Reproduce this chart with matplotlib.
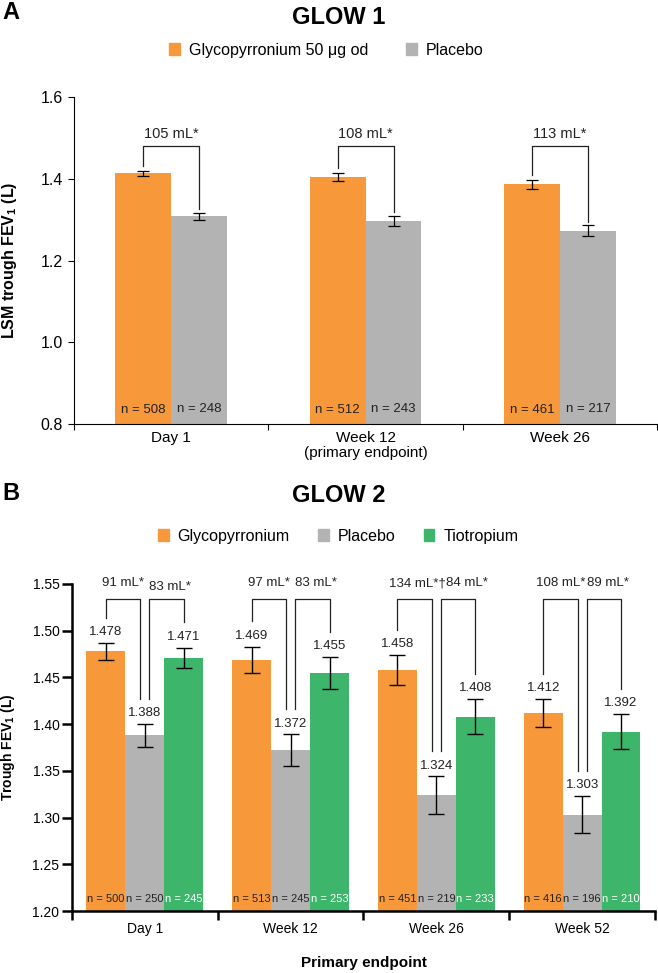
import numpy as np
import matplotlib
matplotlib.use('Agg')
import matplotlib.pyplot as plt
from matplotlib.patches import Patch

plt.rcParams['font.family'] = ['Liberation Sans', 'DejaVu Sans']
plt.rcParams['mathtext.fontset'] = 'custom'
plt.rcParams['mathtext.rm'] = 'Liberation Sans'
plt.rcParams['mathtext.bf'] = 'Liberation Sans:bold'

# ---- GLOW 1 ----
g1_visits = ['Day 1', 'Week 12\n(primary endpoint)', 'Week 26']
g1_glyco = [1.413, 1.405, 1.386]
g1_glyco_err = [0.006, 0.010, 0.011]
g1_placebo = [1.308, 1.297, 1.273]
g1_placebo_err = [0.009, 0.013, 0.013]
g1_n_glyco = [508, 512, 461]
g1_n_placebo = [248, 243, 217]
g1_diff = ['105 mL*', '108 mL*', '113 mL*']

# ---- GLOW 2 ----
g2_visits = ['Day 1', 'Week 12', 'Week 26', 'Week 52']
g2_glyco = [1.478, 1.469, 1.458, 1.412]
g2_glyco_err = [0.009, 0.014, 0.016, 0.015]
g2_placebo = [1.388, 1.372, 1.324, 1.303]
g2_placebo_err = [0.012, 0.017, 0.020, 0.020]
g2_tio = [1.471, 1.455, 1.408, 1.392]
g2_tio_err = [0.011, 0.017, 0.019, 0.019]
g2_n_glyco = [500, 513, 451, 416]
g2_n_placebo = [250, 245, 219, 196]
g2_n_tio = [245, 253, 233, 210]
g2_diff_glyco = ['91 mL*', '97 mL*', '134 mL*\u2020', '108 mL*']
g2_diff_tio = ['83 mL*', '83 mL*', '84 mL*', '89 mL*']

ORANGE = '#F7993B'
GRAY = '#B3B3B3'
GREEN = '#3DB56B'
INK = '#222222'

fig = plt.figure(figsize=(6.58, 9.73), dpi=100)

# =========================
# Panel A - GLOW 1
# =========================
axA = fig.add_axes([0.1125, 0.5642, 0.886, 0.3361])
x1 = np.arange(len(g1_visits))
w1 = 0.288
axA.bar(x1 - w1 / 2, g1_glyco, w1, color=ORANGE)
axA.bar(x1 + w1 / 2, g1_placebo, w1, color=GRAY)
axA.errorbar(x1 - w1 / 2, g1_glyco, yerr=g1_glyco_err, fmt='none', ecolor='black',
             elinewidth=0.9, capsize=4, capthick=0.9)
axA.errorbar(x1 + w1 / 2, g1_placebo, yerr=g1_placebo_err, fmt='none', ecolor='black',
             elinewidth=0.9, capsize=4, capthick=0.9)

top_a = 1.479
for i in range(len(x1)):
    xl, xr = x1[i] - w1 / 2, x1[i] + w1 / 2
    axA.plot([xl, xl, xr, xr],
             [g1_glyco[i] + g1_glyco_err[i] + 0.012, top_a, top_a,
              g1_placebo[i] + g1_placebo_err[i] + 0.008],
             color=INK, lw=0.9)
    axA.text(x1[i], 1.5095, g1_diff[i], ha='center', va='center', fontsize=10.5, color=INK)
    axA.text(xl, 0.834, f'n = {g1_n_glyco[i]}', ha='center', va='center', fontsize=9.5, color=INK)
    axA.text(xr, 0.836, f'n = {g1_n_placebo[i]}', ha='center', va='center', fontsize=9.5, color=INK)

axA.set_xlim(-0.5, len(x1) - 0.5)
axA.set_ylim(0.8, 1.6)
axA.set_yticks([0.8, 1.0, 1.2, 1.4, 1.6])
axA.set_yticklabels([f'{v:.1f}' for v in [0.8, 1.0, 1.2, 1.4, 1.6]])
axA.set_xticks(x1)
axA.set_xticklabels(g1_visits, linespacing=1.1)
axA.set_xticks(np.arange(-0.5, len(x1)), minor=True)
axA.tick_params(axis='x', which='major', length=0, pad=5, labelsize=11)
axA.tick_params(axis='x', which='minor', length=4.5, width=0.8)
axA.tick_params(axis='y', length=4, width=0.8, pad=4, labelsize=11.5)
for s in ['top', 'right']:
    axA.spines[s].set_visible(False)
for s in ['left', 'bottom']:
    axA.spines[s].set_linewidth(0.8)
axA.set_ylabel(r'LSM trough FEV$_\mathbf{1}$ (L)', fontsize=11.5, fontweight='bold')
axA.yaxis.set_label_coords(-0.094, 0.5)

fig.text(0.017, 0.987, 'A', ha='center', va='center', fontsize=17, fontweight='bold')
fig.text(0.515, 0.9825, 'GLOW 1', ha='center', va='center', fontsize=17, fontweight='bold')
fig.legend(handles=[Patch(color=ORANGE, label='Glycopyrronium 50 \u03bcg od'),
                    Patch(color=GRAY, label='Placebo')],
           loc='center', bbox_to_anchor=(0.496, 0.9486), ncol=2, frameon=False,
           fontsize=11.5, handlelength=0.65, handleheight=0.7, handletextpad=0.55,
           columnspacing=2.4)

# =========================
# Panel B - GLOW 2
# =========================
axB = fig.add_axes([0.1094, 0.0637, 0.886, 0.3361])
x2 = np.arange(len(g2_visits))
w2 = 0.267
groups = [(x2 - w2, g2_glyco, g2_glyco_err, ORANGE, g2_n_glyco, INK),
          (x2, g2_placebo, g2_placebo_err, GRAY, g2_n_placebo, INK),
          (x2 + w2, g2_tio, g2_tio_err, GREEN, g2_n_tio, 'white')]
for pos, vals, errs, col, ns, ncol in groups:
    axB.bar(pos, vals, w2, color=col)
    axB.errorbar(pos, vals, yerr=errs, fmt='none', ecolor='black',
                 elinewidth=1.0, capsize=5.5, capthick=1.0)
    for p, v, e, n in zip(pos, vals, errs, ns):
        axB.annotate(f'{v:.3f}', (p, v + e), xytext=(0, 3.5), textcoords='offset points',
                     ha='center', va='bottom', fontsize=9.5, color=INK)
        axB.text(p, 1.213, f'n = {n}', ha='center', va='center', fontsize=8, color=ncol)

top_b = 1.5336
gap = 0.031
lift = 0.027
for i in range(len(x2)):
    xg, xp, xt = x2[i] - w2, x2[i], x2[i] + w2
    yg = g2_glyco[i] + g2_glyco_err[i] + lift
    yp = g2_placebo[i] + g2_placebo_err[i] + lift
    yt = g2_tio[i] + g2_tio_err[i] + lift
    axB.plot([xg, xg, xp - gap, xp - gap], [yg, top_b, top_b, yp], color=INK, lw=0.9, clip_on=False)
    axB.plot([xp + gap, xp + gap, xt, xt], [yp, top_b, top_b, yt], color=INK, lw=0.9, clip_on=False)
    dx1 = 0.02 if i == 2 else 0.0
    dx2 = 0.06 if i == 2 else 0.025
    y2 = 1.547 if i == 0 else 1.551
    axB.text((xg + xp - gap) / 2 + dx1, 1.551, g2_diff_glyco[i], ha='center', va='center',
             fontsize=9.5, color=INK, clip_on=False)
    axB.text((xp + gap + xt) / 2 + dx2, y2, g2_diff_tio[i], ha='center', va='center',
             fontsize=9.5, color=INK, clip_on=False)

axB.set_xlim(-0.5, len(x2) - 0.5)
axB.set_ylim(1.2, 1.55)
yt_b = [1.20, 1.25, 1.30, 1.35, 1.40, 1.45, 1.50, 1.55]
axB.set_yticks(yt_b)
axB.set_yticklabels([f'{v:.2f}' for v in yt_b])
axB.set_xticks(x2)
axB.set_xticklabels(g2_visits)
axB.set_xticks(np.arange(-0.5, len(x2)), minor=True)
axB.tick_params(axis='x', which='major', length=0, pad=8, labelsize=10)
axB.tick_params(axis='x', which='minor', length=6.5, width=1.8)
axB.tick_params(axis='y', length=7, width=1.8, pad=2, labelsize=10)
for s in ['top', 'right']:
    axB.spines[s].set_visible(False)
for s in ['left', 'bottom']:
    axB.spines[s].set_linewidth(1.8)
axB.set_ylabel(r'Trough FEV$_\mathbf{1}$ (L)', fontsize=10, fontweight='bold')
axB.yaxis.set_label_coords(-0.094, 0.5)
axB.set_xlabel('Primary endpoint', fontsize=11, fontweight='bold')
axB.xaxis.set_label_coords(0.5, -0.138)

fig.text(0.017, 0.493, 'B', ha='center', va='center', fontsize=17, fontweight='bold')
fig.text(0.515, 0.491, 'GLOW 2', ha='center', va='center', fontsize=17, fontweight='bold')
fig.legend(handles=[Patch(color=ORANGE, label='Glycopyrronium'),
                    Patch(color=GRAY, label='Placebo'),
                    Patch(color=GREEN, label='Tiotropium')],
           loc='center', bbox_to_anchor=(0.514, 0.449), ncol=3, frameon=False,
           fontsize=11.5, handlelength=0.65, handleheight=0.7, handletextpad=0.55,
           columnspacing=1.8)

fig.savefig('out.png', dpi=100)
